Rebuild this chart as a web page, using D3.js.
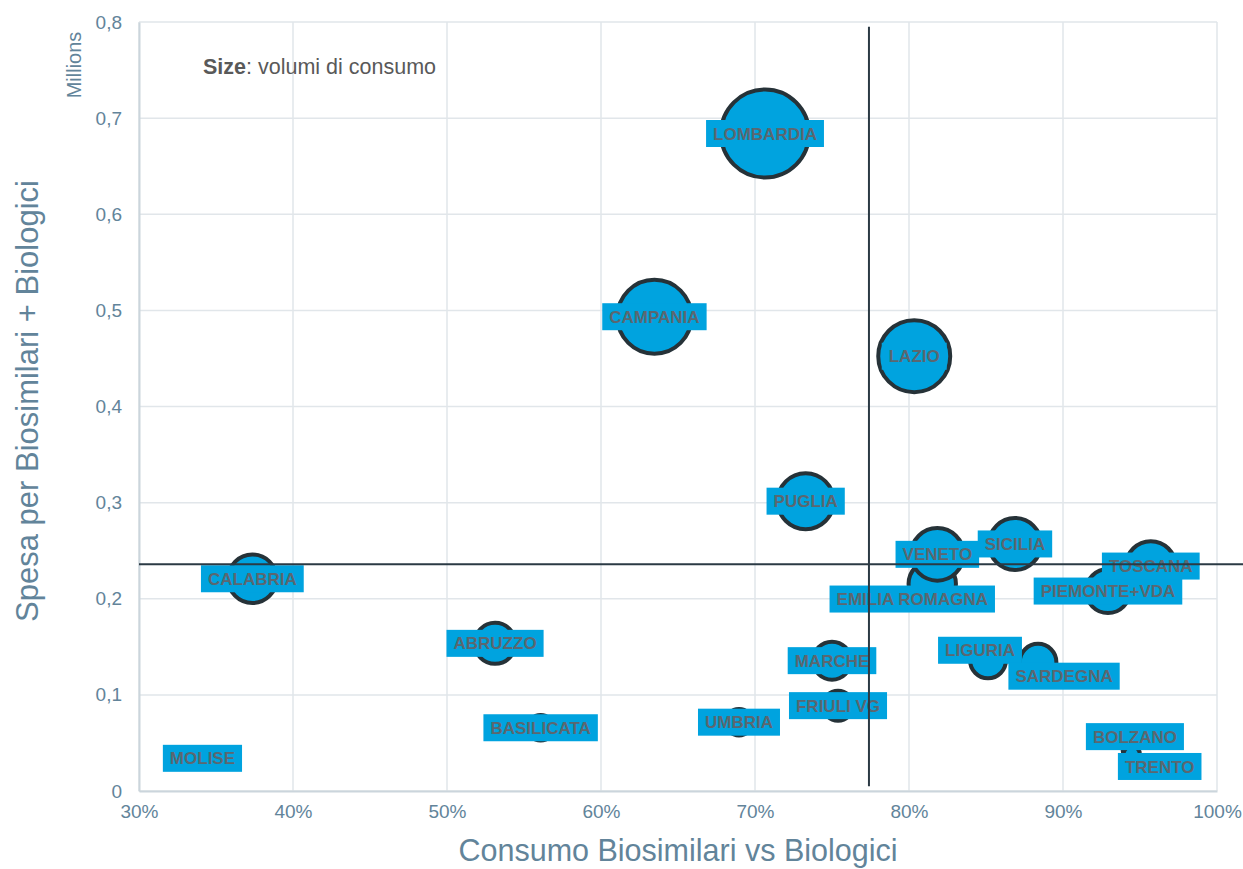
<!DOCTYPE html>
<html>
<head>
<meta charset="utf-8">
<script src="https://cdn.jsdelivr.net/npm/d3@7"></script>
<style>
  html, body { margin: 0; padding: 0; background: #fff; }
  #chart { width: 1243px; height: 869px; }
  text { font-family: "Liberation Sans", Arial, sans-serif; }
</style>
</head>
<body>
<div id="chart"></div>
<script>
// dati: regioni, consumo biosimilari vs biologici, spesa (milioni), volumi di consumo
const regioni = [
  "LOMBARDIA", "CAMPANIA", "LAZIO", "PUGLIA", "CALABRIA", "ABRUZZO",
  "BASILICATA", "UMBRIA", "MARCHE", "FRIULI VG", "EMILIA ROMAGNA", "VENETO",
  "SICILIA", "PIEMONTE+VDA", "TOSCANA", "LIGURIA", "SARDEGNA",
  "BOLZANO", "TRENTO", "MOLISE"
];
const consumo = [
  0.7065, 0.6347, 0.8034, 0.7329, 0.3736, 0.5312,
  0.5608, 0.6896, 0.7500, 0.7539, 0.8151, 0.8184,
  0.8688, 0.9292, 0.9570, 0.8513, 0.8838,
  0.9441, 0.9446, 0.3412
];
const spesa = [
  0.684, 0.4934, 0.4523, 0.3015, 0.2208, 0.1536,
  0.0658, 0.0716, 0.1356, 0.0888, 0.2153, 0.2462,
  0.2570, 0.2080, 0.2340, 0.1360, 0.1340,
  0.0420, 0.0380, 0.0340
];
const volumi = [
  100, 70.7, 66.9, 40.5, 30.5, 21.7,
  8.5, 9.1, 18.6, 11.6, 29.0, 35.7,
  35.0, 25.0, 32.0, 16.7, 17.4,
  3.5, 3.5, 2.0
];
// medie (linee di riferimento)
const mediaConsumo = 0.774;
const mediaSpesa = 0.2358;

const xTicks = [0.3, 0.4, 0.5, 0.6, 0.7, 0.8, 0.9, 1.0];
const yTicks = [0, 0.1, 0.2, 0.3, 0.4, 0.5, 0.6, 0.7, 0.8];

// spostamenti manuali delle etichette (px)
const labelNudge = {
  "EMILIA ROMAGNA": [-20, 15],
  "LIGURIA": [-8, -10],
  "SARDEGNA": [26, 14],
  "BOLZANO": [4, -14],
  "TRENTO": [28, 12]
};

const width = 1243;
const height = 869;
const margin = { top: 22, right: 26, bottom: 78, left: 139 };

const fill = "#00A3DF";
const stroke = "#263238";
const axisColor = "#62849A";
const labelColor = "#5B6770";

const svg = d3.select("#chart").append("svg")
  .attr("width", width).attr("height", height);

const xScale = d3.scaleLinear().domain([0.3, 1.0]).range([margin.left, width - margin.right]);
const yScale = d3.scaleLinear().domain([0, 0.8]).range([height - margin.bottom, margin.top]);
const rScale = d3.scaleSqrt().domain([0, 100]).range([0, 44]);

const data = regioni.map((r, i) => ({
  name: r, x: consumo[i], y: spesa[i], v: volumi[i]
}));

// griglia
svg.append("g")
  .selectAll("line")
  .data(xTicks)
  .join("line")
  .attr("x1", (d) => xScale(d)).attr("x2", (d) => xScale(d))
  .attr("y1", yScale(0)).attr("y2", yScale(0.8))
  .attr("stroke", "#E1E6EA").attr("stroke-width", 1.5);

svg.append("g")
  .selectAll("line")
  .data(yTicks)
  .join("line")
  .attr("x1", xScale(0.3)).attr("x2", xScale(1.0))
  .attr("y1", (d) => yScale(d)).attr("y2", (d) => yScale(d))
  .attr("stroke", "#E1E6EA").attr("stroke-width", 1.5);

// assi
const xAxis = d3.axisBottom(xScale)
  .tickValues(xTicks)
  .tickFormat(d3.format(".0%"))
  .tickSize(0)
  .tickPadding(14);

const yAxis = d3.axisLeft(yScale)
  .tickValues(yTicks)
  .tickFormat((d) => (d === 0 ? "0" : d3.format(".1f")(d).replace(".", ",")))
  .tickSize(0)
  .tickPadding(17);

svg.append("g")
  .attr("transform", `translate(0, ${yScale(0)})`)
  .call(xAxis)
  .call((g) => g.select(".domain").attr("stroke", "#CBD5DC").attr("stroke-width", 2))
  .call((g) => g.selectAll("text").attr("fill", axisColor).style("font-size", "19px"));

svg.append("g")
  .attr("transform", `translate(${xScale(0.3)}, 0)`)
  .call(yAxis)
  .call((g) => g.select(".domain").attr("stroke", "#CBD5DC").attr("stroke-width", 2))
  .call((g) => g.selectAll("text").attr("fill", axisColor).style("font-size", "19px"));

// titoli assi
svg.append("text")
  .attr("x", (margin.left + width - margin.right) / 2)
  .attr("y", 861)
  .attr("text-anchor", "middle")
  .attr("fill", axisColor)
  .style("font-size", "30.5px")
  .text("Consumo Biosimilari vs Biologici");

svg.append("text")
  .attr("transform", `translate(38, 401) rotate(-90)`)
  .attr("text-anchor", "middle")
  .attr("fill", axisColor)
  .style("font-size", "31px")
  .text("Spesa per Biosimilari + Biologici");

svg.append("text")
  .attr("transform", `translate(81, 65) rotate(-90)`)
  .attr("text-anchor", "middle")
  .attr("fill", axisColor)
  .style("font-size", "20px")
  .text("Millions");

// nota dimensione
const note = svg.append("text")
  .attr("x", 203)
  .attr("y", 74)
  .attr("fill", "#595959")
  .style("font-size", "21.5px");
note.append("tspan").style("font-weight", "bold").text("Size");
note.append("tspan").text(": volumi di consumo");

// bolle
svg.append("g")
  .selectAll("circle")
  .data(data)
  .join("circle")
  .attr("cx", (d) => xScale(d.x))
  .attr("cy", (d) => yScale(d.y))
  .attr("r", (d) => rScale(d.v))
  .attr("fill", fill)
  .attr("stroke", stroke)
  .attr("stroke-width", 4);

// etichette
const labels = svg.append("g")
  .selectAll("g")
  .data(data)
  .join("g")
  .attr("transform", (d) => {
    const n = labelNudge[d.name] || [0, 0];
    return `translate(${xScale(d.x) + n[0]}, ${yScale(d.y) + n[1]})`;
  });

labels.append("rect").attr("fill", fill);

labels.append("text")
  .attr("text-anchor", "middle")
  .attr("dy", "0.36em")
  .attr("fill", labelColor)
  .style("font-size", "17px")
  .style("font-weight", "bold")
  .text((d) => d.name);

labels.each(function () {
  const g = d3.select(this);
  const w = g.select("text").node().getComputedTextLength();
  g.select("rect")
    .attr("x", -w / 2 - 7)
    .attr("y", -13.5)
    .attr("width", w + 14)
    .attr("height", 27);
});

// linee di riferimento (medie)
svg.append("line")
  .attr("x1", xScale(mediaConsumo)).attr("x2", xScale(mediaConsumo))
  .attr("y1", yScale(0.795)).attr("y2", yScale(0.005))
  .attr("stroke", "#2B3A44").attr("stroke-width", 2);

svg.append("line")
  .attr("x1", xScale(0.3)).attr("x2", xScale(1.0215))
  .attr("y1", yScale(mediaSpesa)).attr("y2", yScale(mediaSpesa))
  .attr("stroke", "#2B3A44").attr("stroke-width", 2);
</script>
</body>
</html>
